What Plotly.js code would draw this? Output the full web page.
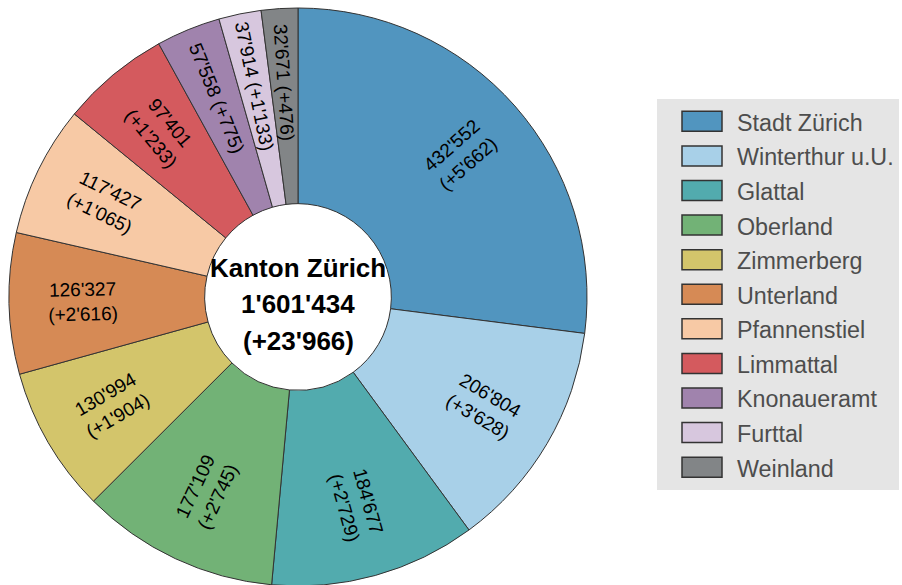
<!DOCTYPE html>
<html>
<head>
<meta charset="utf-8">
<script src="https://cdn.plot.ly/plotly-3.0.1.min.js"></script>
<style>
html,body{margin:0;padding:0;overflow:hidden;background:#fff;}
#chart{width:902px;height:590px;}
</style>
</head>
<body>
<div id="chart"></div>
<script>
const regions = ["Stadt Zürich","Winterthur u.U.","Glattal","Oberland","Zimmerberg","Unterland","Pfannenstiel","Limmattal","Knonaueramt","Furttal","Weinland"];
const population = [432552,206804,184677,177109,130994,126327,117427,97401,57558,37914,32671];
const increase = [5662,3628,2729,2745,1904,2616,1065,1233,775,1133,476];
const colors = ["#5195bf","#a8d0e8","#52abae","#72b276","#d3c56b","#d68a55","#f7c9a5","#d45a5e","#a083ad","#d7c7de","#828587"];
const totalLabel = "Kanton Zürich";

function fmt(n){ return String(n).replace(/\B(?=(\d{3})+(?!\d))/g, "'"); }
const total = population.reduce((a,b)=>a+b,0);
const totalInc = increase.reduce((a,b)=>a+b,0);
const texts = population.map((v,i)=> v/total < 0.05 ? fmt(v)+" (+"+fmt(increase[i])+")" : fmt(v)+"<br>(+"+fmt(increase[i])+")");
const legendLabels = regions.map(r=>'<span style="font-size:23.3px">'+r+'</span>');

const W = 902, H = 590, mt = 8, mb = 4, ml = 9, mr = 0;
const diam = H - mt - mb;
const plotW = W - ml - mr;
const dx = diam/plotW;
const R = diam/2;
const holeFrac = 0.323;
const textFrac = 0.745;
const FONT = "Liberation Sans, Arial, Helvetica, sans-serif";

const trace = {
  type: "pie",
  labels: legendLabels,
  values: population,
  textinfo: "none",
  hole: holeFrac,
  sort: false,
  direction: "clockwise",
  rotation: 0,
  marker: {colors: colors, line: {color: "#333", width: 1}},
  domain: {x: [0, dx], y: [0, 1]},
  hoverinfo: "none"
};

// slice labels placed radially at the middle angle of each slice (computed from the data)
const annotations = [];
let cum = 0;
population.forEach(function(v, i){
  const mid = (cum + v/2)/total * 360;
  cum += v;
  const rad = mid*Math.PI/180;
  const rpx = textFrac*R;
  let ang = mid - 90;
  if (ang > 90) ang -= 180;
  annotations.push({
    xref: "paper", yref: "paper",
    x: dx/2 + rpx*Math.sin(rad)/plotW,
    y: 0.5 + rpx*Math.cos(rad)/diam,
    xanchor: "center", yanchor: "middle",
    showarrow: false, textangle: ang,
    text: texts[i],
    font: {family: FONT, size: 19, color: "#000"}
  });
});
// centre text
const centreLines = [totalLabel, fmt(total), "(+"+fmt(totalInc)+")"];
const centreShift = [29.5, -7, -43.5];
centreLines.forEach(function(t, i){
  annotations.push({
    xref: "paper", yref: "paper", x: dx/2, y: 0.5,
    xanchor: "center", yanchor: "middle", yshift: centreShift[i],
    showarrow: false, text: "<b>"+t+"</b>",
    font: {family: FONT, size: 26, color: "#000"}
  });
});

const layout = {
  width: W, height: H,
  margin: {l: ml, r: mr, t: mt, b: mb, pad: 0},
  paper_bgcolor: "#fff",
  showlegend: true,
  legend: {
    x: (657-ml)/plotW, xanchor: "left",
    y: 1-(99-mt)/diam, yanchor: "top",
    bgcolor: "#e5e5e5",
    borderwidth: 0,
    font: {family: FONT, size: 24.3, color: "#4d4d4d"},
    itemwidth: 70,
    traceorder: "normal"
  },
  annotations: annotations
};

Plotly.newPlot("chart", [trace], layout, {displayModeBar: false, staticPlot: true}).then(function(){
  document.querySelectorAll(".legend path.legendpie").forEach(function(p){
    p.setAttribute("d", "M25,10H-15V-10H25Z");
    p.style.strokeWidth = "1.5px";
    p.style.stroke = "#333";
  });
});
</script>
</body>
</html>
